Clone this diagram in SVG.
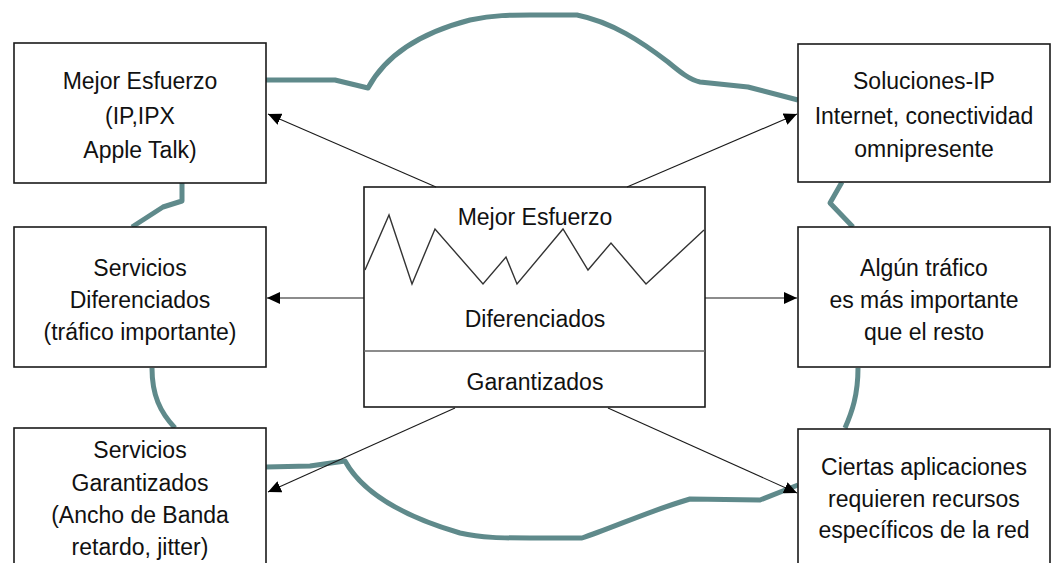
<svg xmlns="http://www.w3.org/2000/svg" width="1059" height="563" viewBox="0 0 1059 563">
  <style>
    .cloud { fill: none; stroke: #5f8a8b; stroke-width: 5; stroke-linejoin: round; stroke-linecap: butt; }
    .box { fill: #ffffff; stroke: #1a1a1a; stroke-width: 1.6; }
    .lbl { font-family: "Liberation Sans", Arial, sans-serif; font-size: 23px; fill: #111111; text-anchor: middle; }
    .conn { fill: none; stroke: #1a1a1a; stroke-width: 1.1; }
    .wave { fill: none; stroke: #333333; stroke-width: 1.4; stroke-linejoin: miter; }
  </style>
  <defs>
    <marker id="arrow" viewBox="0 0 13 12" refX="13" refY="6" markerWidth="13" markerHeight="12" markerUnits="userSpaceOnUse" orient="auto">
      <path d="M0,0 L13,6 L0,12 z" fill="#000000"/>
    </marker>
  </defs>

  <rect x="0" y="0" width="1059" height="563" fill="#ffffff"/>

  <!-- network cloud outline -->
  <g id="cloud">
    <path class="cloud" d="M266,80 L335,80 L368,88 C382,62 412,35 470,20 C495,15 510,15 530,15 L577,15 C612,22 642,42 668,62 C680,72 690,80 700,82 L748,87 L798,100"/>
    <path class="cloud" d="M182,183 L182,201 L163,207 L132,227"/>
    <path class="cloud" d="M842,182 L830,203 L853,227"/>
    <path class="cloud" d="M152,368 C152,395 160,412 175,428"/>
    <path class="cloud" d="M858,368 C858,395 852,412 845,428"/>
    <path class="cloud" d="M266,467 L310,466 L345,461 C362,492 402,516 460,533 C482,538 502,538 530,538 L582,538 C612,528 652,510 690,499 L760,500 L798,485"/>
  </g>

  <!-- service boxes -->
  <g id="node-mejor-esfuerzo">
    <rect class="box" x="14" y="43" width="252" height="140"/>
    <text class="lbl" x="140" y="89">Mejor Esfuerzo</text>
    <text class="lbl" x="140" y="124">(IP,IPX</text>
    <text class="lbl" x="140" y="158">Apple Talk)</text>
  </g>

  <g id="node-diferenciados">
    <rect class="box" x="14" y="227" width="252" height="140"/>
    <text class="lbl" x="140" y="276">Servicios</text>
    <text class="lbl" x="140" y="308">Diferenciados</text>
    <text class="lbl" x="140" y="340">(tráfico importante)</text>
  </g>

  <g id="node-garantizados">
    <rect class="box" x="14" y="428" width="252" height="150"/>
    <text class="lbl" x="140" y="458">Servicios</text>
    <text class="lbl" x="140" y="491">Garantizados</text>
    <text class="lbl" x="140" y="523">(Ancho de Banda</text>
    <text class="lbl" x="140" y="555">retardo, jitter)</text>
  </g>

  <g id="node-soluciones-ip">
    <rect class="box" x="798" y="44" width="252" height="138"/>
    <text class="lbl" x="924" y="89">Soluciones-IP</text>
    <text class="lbl" x="924" y="124">Internet, conectividad</text>
    <text class="lbl" x="924" y="157">omnipresente</text>
  </g>

  <g id="node-trafico">
    <rect class="box" x="798" y="227" width="252" height="140"/>
    <text class="lbl" x="924" y="276">Algún tráfico</text>
    <text class="lbl" x="924" y="308">es más importante</text>
    <text class="lbl" x="924" y="340">que el resto</text>
  </g>

  <g id="node-aplicaciones">
    <rect class="box" x="798" y="429" width="252" height="150"/>
    <text class="lbl" x="924" y="475">Ciertas aplicaciones</text>
    <text class="lbl" x="924" y="507">requieren recursos</text>
    <text class="lbl" x="924" y="538">específicos de la red</text>
  </g>

  <!-- central service-level box -->
  <g id="node-niveles">
    <rect class="box" x="364" y="187" width="341" height="220"/>
    <polyline class="wave" points="365,270 389,215 412,284 435,229 483,284 506,257 517,284 563,229 588,270 611,243 646,284 704,230"/>
    <line x1="364" y1="351" x2="705" y2="351" stroke="#666666" stroke-width="1.6"/>
    <text class="lbl" x="535" y="225">Mejor Esfuerzo</text>
    <text class="lbl" x="535" y="327">Diferenciados</text>
    <text class="lbl" x="535" y="390">Garantizados</text>
  </g>

  <!-- connectors -->
  <g id="connectors">
    <line class="conn" x1="436" y1="187" x2="268" y2="114" marker-end="url(#arrow)"/>
    <line class="conn" x1="627" y1="187" x2="797" y2="114" marker-end="url(#arrow)"/>
    <line class="conn" x1="364" y1="298" x2="267" y2="298" marker-end="url(#arrow)"/>
    <line class="conn" x1="705" y1="298" x2="797" y2="298" marker-end="url(#arrow)"/>
    <line class="conn" x1="455" y1="408" x2="268" y2="492" marker-end="url(#arrow)"/>
    <line class="conn" x1="608" y1="408" x2="797" y2="493" marker-end="url(#arrow)"/>
  </g>
</svg>
